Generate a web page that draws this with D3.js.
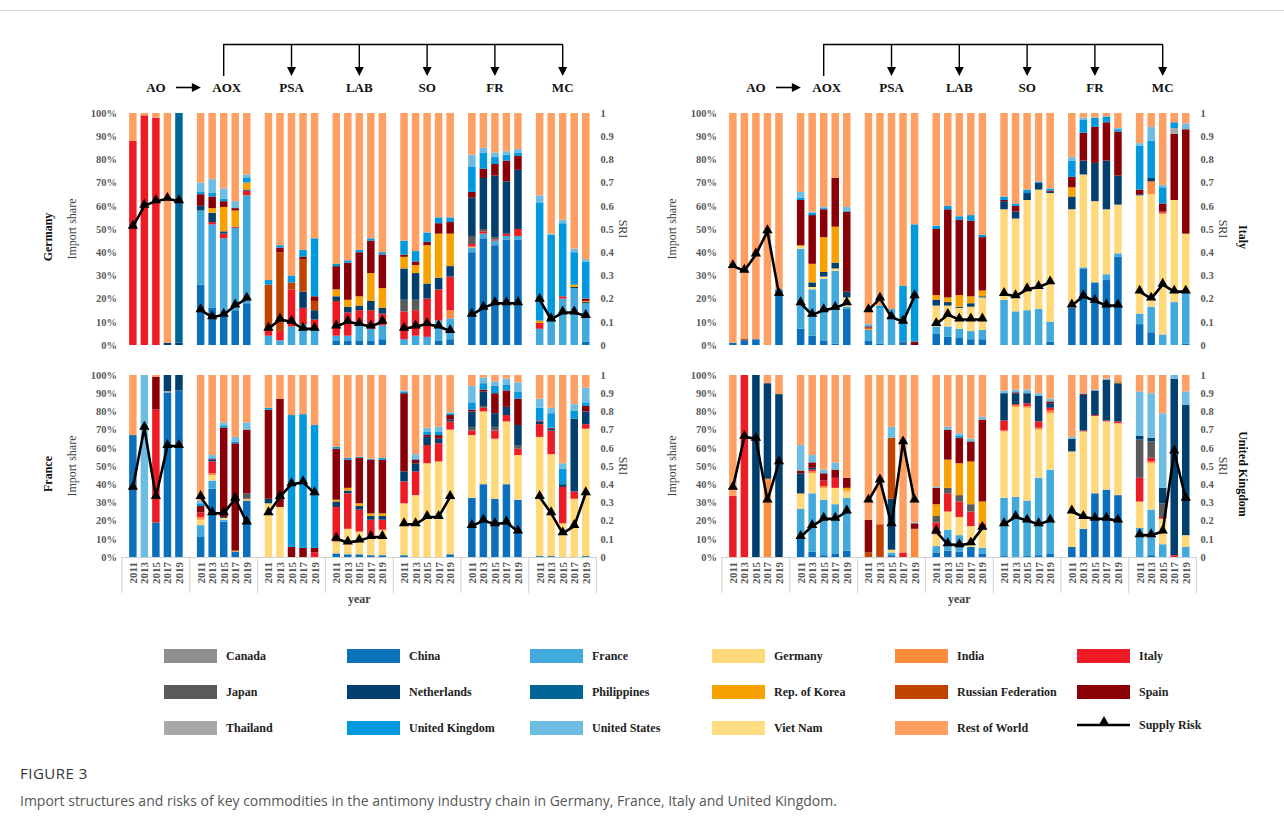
<!DOCTYPE html>
<html lang="en">
<head>
<meta charset="utf-8">
<title>Import structures and risks of antimony commodities</title>
<script src="https://cdn.jsdelivr.net/npm/d3@7"></script>
<style>
  body { margin: 0; background: #fff; }
  svg { display: block; }
</style>
</head>
<body>
<script>
// ---- categories ----
var products = ["AO", "AOX", "PSA", "LAB", "SO", "FR", "MC"];
var years = [2011, 2013, 2015, 2017, 2019];
var codes = ["CA", "CN", "FR", "DE", "IN", "IT", "JP", "NL", "PH", "KR", "RU", "ES", "TH", "UK", "US", "VN", "RW"];
var countryNames = ["Canada", "China", "France", "Germany", "India", "Italy", "Japan", "Netherlands", "Philippines",
  "Rep. of Korea", "Russian Federation", "Spain", "Thailand", "United Kingdom", "United States", "Viet Nam", "Rest of World"];
var countryColors = ["#8f8f8f", "#0a70bb", "#42a9dc", "#ffd87a", "#ff8b3d", "#ed1c24", "#5a5a5a", "#003f6e", "#006696",
  "#f7a200", "#c04400", "#8b0006", "#a8a8a8", "#0098de", "#6dbde3", "#ffdc80", "#ffa062"];
var shareTicks = [0, 0.1, 0.2, 0.3, 0.4, 0.5, 0.6, 0.7, 0.8, 0.9, 1];

// ---- import shares (%), one array per product, one object per year ----
var germanyShares = [
  [{IT:88,RW:12},{IT:99,RW:1},{IT:98,RW:2},{NL:1,RW:99},{NL:1,PH:99}],
  [{CN:26,FR:32,NL:2,ES:5,UK:1,US:4,RW:30},{CN:16,FR:36,IT:1,NL:4,KR:2,ES:5,UK:1.5,US:6,RW:28.5},
   {CN:13,FR:33,IT:2,NL:1,KR:10.5,ES:2.5,UK:1,US:4.5,RW:32.5},{CN:15,FR:35.5,IT:0.5,KR:7,ES:1,US:3,RW:38},
   {CN:18,FR:46.5,IT:2,NL:0.5,KR:3,UK:2,US:1.5,RW:26.5}],
  [{FR:4,IT:4,RU:18,UK:2,RW:72},{FR:2,IT:4,RU:34,ES:2,UK:1,RW:57},{FR:8,IT:16,RU:3,UK:3,RW:70},
   {FR:9,IT:7,NL:7,RU:14,ES:1,UK:3,RW:59},{FR:7,IT:4,NL:4,RU:4,ES:2,UK:25,RW:54}],
  [{CN:2,FR:2,IT:15,NL:2,KR:3,ES:10,UK:1,RW:65},{CN:2,FR:2,IT:10,NL:2.5,KR:3,ES:16,UK:1,RW:63.5},
   {CN:2,FR:7,IT:6,NL:2,KR:4,ES:19,UK:1,RW:59},{CN:2,FR:5,IT:8,NL:4,KR:12,ES:14,UK:1,RW:54},
   {CN:2.5,FR:6,IT:5,NL:2.5,KR:8.5,ES:14.5,UK:1,RW:60}],
  [{FR:2.5,IT:12,JP:5,NL:13.5,KR:5,ES:1,UK:6,RW:55},{FR:4,IT:11,JP:4.5,NL:11.5,KR:3.5,ES:1.5,UK:4.5,RW:59.5},
   {FR:3.5,IT:16.5,NL:6.5,KR:16.5,ES:1.5,UK:4,RW:51.5},{CN:2,FR:8.5,IT:13.5,NL:5,KR:19,ES:4.5,UK:2.5,RW:45},
   {CN:2.5,FR:9,IN:3.5,IT:14.5,NL:4.5,KR:14,ES:5,UK:2,RW:45}],
  [{CN:40,FR:2,IN:0.5,IT:1,JP:3.5,NL:16.5,ES:2.5,UK:11,US:5,RW:18},{CN:46,FR:2,IT:1,JP:1,NL:22,ES:4,UK:7,US:2,RW:15},
   {CN:43,FR:2,IT:0.5,JP:1,NL:26.5,ES:5,UK:3,US:2,RW:17},{CN:45.5,FR:1.5,IT:1,NL:22.5,ES:9,UK:2.5,US:1.5,RW:16.5},
   {CN:45.5,FR:1.5,IT:3,NL:25.5,ES:6,UK:1.5,US:1.5,RW:15.5}],
  [{FR:7,IT:2.5,KR:1,UK:51,US:3,RW:35.5},{FR:10,UK:37.5,US:0.5,RW:52},{FR:20,IT:1,UK:31.5,US:1.5,RW:46},
   {FR:24.5,NL:0.5,KR:1,UK:14,US:1.5,RW:58.5},{CN:1.5,FR:16.5,NL:0.5,KR:0.5,ES:1,UK:16,US:1,RW:63}]
];
var franceShares = [
  [{CN:67,RW:33},{US:100},{CN:19,IT:62,ES:18,RW:1},{CN:90.5,DE:0.5,NL:9},{CN:91.5,NL:8.5}],
  [{CN:11,FR:6.5,DE:3,IN:1.5,IT:2.5,ES:3.5,UK:1.5,US:1.5,RW:69},{CN:37.5,FR:4.5,DE:3,IN:1,IT:6.5,NL:1,ES:0.5,UK:0.5,US:1.5,RW:44},
   {CN:19.5,FR:1,DE:1,NL:0.5,ES:49,UK:1,US:2,RW:26},{CN:3,KR:0.5,ES:59,UK:1,US:2.5,RW:34},
   {CN:31,DE:0.5,IN:0.5,JP:3,ES:35,US:4,RW:26}],
  [{DE:29.5,NL:2.5,ES:49,UK:1,RW:18},{DE:27.5,ES:59.5,RW:13},{ES:5.5,UK:72.5,RW:22},
   {ES:5,UK:73.5,RW:21.5},{IT:2.5,ES:2.5,UK:67.5,RW:27.5}],
  [{CN:2,DE:6.5,IT:19,NL:3,KR:1,ES:28,UK:1,RW:39.5},{CN:1.5,DE:14,IT:19.5,NL:1.5,KR:1.5,ES:15.5,UK:1,RW:45.5},
   {CN:1.5,DE:12.5,IT:12,NL:2,KR:1.5,ES:25,UK:0.5,RW:45},{CN:1,DE:11,IT:8.5,NL:2,KR:1.5,ES:29.5,UK:0.5,RW:46},
   {CN:1,DE:14,IT:5.5,NL:2,KR:1.5,ES:29.5,UK:1,RW:45.5}],
  [{CN:1,DE:28.5,IT:12,NL:5.5,ES:43,UK:1,US:0.5,RW:8.5},{DE:34,IT:13,NL:4.5,ES:2,UK:0.5,US:2.5,RW:43.5},
   {DE:51.5,IT:10,NL:4.5,ES:1,UK:2,US:2,RW:29},{DE:52.5,IT:10,NL:2.5,ES:2,UK:2,US:2.5,RW:28.5},
   {CN:1.5,DE:68.5,IT:4.5,NL:1,ES:2.5,UK:1,US:0.5,RW:20.5}],
  [{CN:32.5,DE:34.5,IT:2.5,JP:2,NL:8.5,ES:1,UK:4,US:9,RW:6},{CN:40,DE:40,IT:2,JP:1,NL:8,ES:1,UK:3.5,US:3,RW:1.5},
   {CN:32,DE:33,IT:4.5,JP:2,NL:7.5,ES:11,UK:4,US:2.5,RW:3.5},{CN:40,DE:34.5,IT:3.5,NL:4.5,ES:9,UK:3,US:3.5,RW:2},
   {CN:31.5,DE:24.5,IT:3.5,JP:2,NL:11,ES:14.5,UK:4,US:5,RW:4}],
  [{CN:0.5,DE:65.5,IT:7,NL:1.5,ES:0.5,UK:7,US:5,RW:13},{CN:0.5,DE:56,IT:13,NL:1,ES:0.5,UK:8,US:3,RW:18},
   {DE:18.5,IT:20,NL:1.5,UK:8.5,US:3,RW:48.5},{DE:32,IT:4,NL:40,UK:4.5,US:3.5,RW:16},
   {CN:0.5,DE:70,IT:2.5,NL:7,ES:3,UK:2,US:8,RW:7}]
];
var italyShares = [
  [{CN:1,RW:99},{CN:2,ES:0.5,RW:97.5},{CN:2.5,RW:97.5},{RW:100},{CN:24,RW:76}],
  [{CN:7,FR:34.5,DE:1,KR:0.5,ES:19.5,UK:1,US:2.5,RW:34},{CN:4,FR:20,DE:1,NL:2,KR:8,ES:21,UK:1,US:0.5,RW:42.5},
   {CN:2,FR:26.5,DE:1,NL:2,KR:15,ES:12,UK:0.5,US:0.5,RW:40.5},{CN:0.5,FR:31.5,DE:1,NL:2.5,KR:15.5,ES:21,RW:28},
   {CN:15.5,FR:1,DE:4,NL:2.5,ES:34.5,UK:0.5,US:1.5,RW:40.5}],
  [{CN:2,FR:4.5,IN:0.5,RU:0.5,ES:0.5,UK:0.5,US:0.5,RW:91},{CN:0.5,FR:15.5,UK:1,RW:83},{FR:15.5,RW:84.5},
   {CN:1,NL:0.5,UK:24,RW:74.5},{ES:1.5,UK:50.5,RW:48}],
  [{CN:5,FR:3,DE:9,NL:2.5,KR:2,ES:28.5,UK:1.5,RW:48.5},{CN:3.5,FR:4.5,DE:9,NL:1.5,KR:2,ES:38,UK:1.5,RW:40},
   {CN:3,FR:4,DE:9,NL:0.5,KR:5,ES:32.5,UK:1.5,RW:44.5},{CN:2.5,FR:3.5,DE:10.5,NL:1.5,KR:3,ES:32.5,UK:2.5,RW:44},
   {CN:2.5,FR:4,DE:14,NL:0.5,KR:2.5,ES:23,UK:1,RW:52.5}],
  [{FR:19.5,DE:39,NL:3.5,ES:0.5,UK:1.5,RW:36},{FR:14.5,DE:40,NL:3,ES:2.5,UK:1,RW:39},
   {FR:15,DE:47.5,NL:3,UK:1.5,RW:33},{FR:15.5,DE:51.5,NL:3,UK:0.5,RW:29.5},
   {CN:1.5,FR:8.5,DE:55.5,NL:0.5,ES:0.5,UK:1,RW:32.5}],
  [{CN:16,DE:42.5,NL:5.5,KR:4,ES:4.5,UK:7,US:1.5,RW:19},{CN:33,FR:0.5,DE:40,NL:6,ES:12,UK:5.5,US:1,RW:2},
   {CN:27,DE:35,NL:16.5,ES:15.5,UK:4,RW:2},{CN:28,FR:2.5,DE:28,NL:21,ES:16.5,UK:2.5,RW:1.5},
   {CN:38,FR:1.5,DE:21,NL:12.5,ES:19,UK:1,US:0.5,RW:6.5}],
  [{CN:9,FR:4.5,DE:51,NL:0.5,ES:2,UK:19,US:1,RW:13},{CN:5.5,FR:11,DE:48.5,IN:5.5,NL:1.5,UK:16,US:6,RW:6},
   {FR:4.5,DE:52,IN:0.5,IT:0.5,ES:3.5,UK:7,US:1,RW:31},{FR:18.5,DE:44,ES:28.5,TH:2.5,UK:2.5,RW:4},
   {CN:0.5,FR:22,DE:25.5,ES:45,US:2.5,RW:4.5}]
];
var ukShares = [
  [{IT:33.5,RW:66.5},{IT:100},{NL:100},{IN:43,NL:52.5,RW:4.5},{NL:89.5,RW:10.5}],
  [{CN:10.5,FR:16,DE:8,IN:0.5,NL:11,ES:1.5,US:14,RW:38.5},{CN:3,FR:32,DE:11,IN:1,IT:1,NL:1,ES:3,US:4,RW:44},
   {CN:1,FR:30.5,DE:6.5,IN:1,IT:3,ES:4,US:2,RW:52},{CN:2,FR:27,DE:9,IT:5.5,ES:4.5,US:4,RW:48},
   {CN:3.5,FR:29,DE:3.5,IN:0.5,KR:1.5,ES:5.5,RW:56.5}],
  [{RU:2.5,ES:18,RW:79.5},{RU:18,RW:82},{CN:1,FR:1.5,DE:1.5,NL:28,RU:33.5,US:6,RW:28.5},
   {IT:2.5,RW:97.5},{IN:15.5,ES:3,US:0.5,RW:81}],
  [{CN:2.5,FR:3.5,DE:6.5,IT:6.5,JP:3.5,KR:6.5,ES:9,US:0.5,RW:61.5},{CN:3.5,FR:11.5,DE:10,IT:10,JP:3,KR:15.5,ES:16.5,US:1.5,RW:28.5},
   {CN:3,FR:9,DE:10,IT:8.5,JP:3.5,KR:17.5,ES:14,UK:1,US:1.5,RW:32},{CN:5.5,DE:11.5,IT:8,JP:4,KR:23.5,ES:11,US:1.5,RW:35},
   {CN:2,FR:3,DE:11,IT:2.5,KR:12,ES:45,US:1.5,RW:23}],
  [{CN:0.5,FR:32,DE:36.5,IN:0.5,IT:5.5,NL:15,US:1.5,RW:8.5},{FR:33,DE:49.5,IN:1,IT:0.5,NL:6,ES:0.5,US:1.5,RW:8},
   {CN:0.5,FR:30.5,DE:51,IN:1,IT:1.5,NL:5.5,US:2,RW:8},{CN:1,FR:42.5,DE:26.5,IN:1,IT:3.5,NL:14,US:1.5,RW:10},
   {CN:2,FR:46,DE:31,IN:1.5,IT:1.5,NL:2.5,ES:1,US:1.5,RW:13}],
  [{CN:5.5,DE:52.5,NL:7,US:1,RW:34},{CN:15.5,DE:53.5,IT:0.5,NL:19.5,ES:0.5,US:0.5,RW:10},
   {CN:35,DE:42.5,IT:0.5,NL:13.5,US:0.5,RW:8},{CN:37,DE:37.5,IT:0.5,NL:22.5,US:0.5,RW:2},
   {CN:34,DE:39.5,IT:1,NL:21,KR:0.5,RU:0.5,RW:3.5}],
  [{FR:16,DE:14.5,IT:13,JP:21,NL:2,US:24.5,RW:9},{CN:1,FR:25,DE:25.5,IN:1,IT:2,JP:9,NL:2,US:24.5,RW:10},
   {FR:7,DE:14,IT:1,JP:7.5,NL:8.5,US:41,RW:21},{IT:1,NL:97,US:2},{FR:5.5,DE:6.5,NL:71.5,US:7.5,RW:9}]
];

// ---- supply risk index, one array per product ----
var germanySRI = [[0.51,0.60,0.62,0.63,0.62],[0.15,0.12,0.13,0.17,0.20],[0.07,0.11,0.10,0.07,0.07],
  [0.08,0.10,0.09,0.08,0.10],[0.07,0.08,0.09,0.08,0.06],[0.13,0.16,0.18,0.18,0.18],[0.195,0.11,0.14,0.14,0.125]];
var franceSRI = [[0.38,0.71,0.33,0.61,0.61],[0.33,0.24,0.24,0.32,0.19],[0.24,0.33,0.40,0.41,0.35],
  [0.10,0.08,0.09,0.11,0.11],[0.18,0.18,0.22,0.22,0.33],[0.17,0.20,0.18,0.19,0.14],[0.33,0.24,0.13,0.17,0.35]];
var italySRI = [[0.34,0.32,0.39,0.49,0.22],[0.18,0.13,0.15,0.16,0.18],[0.15,0.20,0.12,0.10,0.21],
  [0.09,0.13,0.11,0.11,0.11],[0.22,0.21,0.24,0.25,0.27],[0.17,0.21,0.19,0.17,0.17],[0.23,0.20,0.26,0.23,0.23]];
var ukSRI = [[0.38,0.66,0.65,0.31,0.52],[0.11,0.17,0.21,0.21,0.25],[0.31,0.42,0.18,0.63,0.31],
  [0.14,0.07,0.065,0.075,0.16],[0.18,0.22,0.20,0.18,0.20],[0.25,0.22,0.21,0.21,0.20],[0.12,0.12,0.14,0.58,0.32]];

// ---- layout ----
var W = 1284, H = 832;
var serif = "'Liberation Serif', 'DejaVu Serif', serif";
var groupW = 67.8;

var panels = [
  {name: "Germany", shares: germanyShares, sri: germanySRI, x0: 122, top: 113, bottom: 345, right: false, yearAxis: false},
  {name: "France", shares: franceShares, sri: franceSRI, x0: 122, top: 375, bottom: 557, right: false, yearAxis: true},
  {name: "Italy", shares: italyShares, sri: italySRI, x0: 722, top: 113, bottom: 345, right: true, yearAxis: false},
  {name: "United Kingdom", shares: ukShares, sri: ukSRI, x0: 722, top: 375, bottom: 557, right: true, yearAxis: true}
];

var color = d3.scaleOrdinal().domain(codes).range(countryColors);

var svg = d3.select("body").append("svg")
  .attr("width", W)
  .attr("height", H)
  .style("font-family", serif);

svg.append("rect").attr("width", W).attr("height", H).attr("fill", "#fff");
svg.append("line")
  .attr("x1", 0).attr("x2", W).attr("y1", 10.5).attr("y2", 10.5)
  .attr("stroke", "#d9d9d9");

var stack = d3.stack()
  .keys(codes)
  .value(function(d, k) { return (d[k] || 0) / 100; });

var triangle = d3.symbol().type(d3.symbolTriangle).size(46);

panels.forEach(function(p) {
  var x = d3.scaleBand().domain(products).range([p.x0, p.x0 + groupW * products.length]);
  var xYear = d3.scaleBand().domain(years).range([7.1, 60.7]).paddingInner(0.35);
  var y = d3.scaleLinear().domain([0, 1]).range([p.bottom, p.top]);
  var xEnd = p.x0 + groupW * products.length;

  var g = svg.append("g");

  // stacked bars
  products.forEach(function(prod, i) {
    var rows = p.shares[i];
    var series = stack(rows);
    var gx = x(prod);
    g.append("g").selectAll("g")
      .data(series)
      .enter().append("g")
      .attr("fill", function(s) { return color(s.key); })
      .selectAll("rect")
      .data(function(s) { return s; })
      .enter().append("rect")
      .attr("x", function(d, j) { return gx + xYear(years[j]); })
      .attr("width", xYear.bandwidth())
      .attr("y", function(d) { return y(d[1]); })
      .attr("height", function(d) { return Math.max(0, y(d[0]) - y(d[1])); });
  });

  // supply risk lines
  var line = d3.line()
    .x(function(d) { return d.x; })
    .y(function(d) { return y(d.v); });
  products.forEach(function(prod, i) {
    var pts = p.sri[i].map(function(v, j) {
      return {x: x(prod) + xYear(years[j]) + xYear.bandwidth() / 2, v: v};
    });
    g.append("path")
      .datum(pts)
      .attr("d", line)
      .attr("fill", "none")
      .attr("stroke", "#000")
      .attr("stroke-width", 2.6)
      .attr("stroke-linejoin", "round");
    g.selectAll(null)
      .data(pts)
      .enter().append("path")
      .attr("d", triangle)
      .attr("transform", function(d) { return "translate(" + d.x + "," + (y(d.v) - 1) + ")"; })
      .attr("fill", "#000");
  });

  // left axis
  var left = g.append("g")
    .attr("transform", "translate(" + (p.x0 - 5) + ",0)")
    .call(d3.axisLeft(y).tickValues(shareTicks).tickFormat(d3.format(".0%")).tickSize(0).tickPadding(0));
  left.select(".domain").remove();
  left.selectAll("text")
    .attr("font-family", serif).attr("font-size", 10.5).attr("font-weight", "bold").attr("fill", "#595959");

  // right axis (SRI)
  var right = g.append("g")
    .attr("transform", "translate(" + (xEnd + 4) + ",0)")
    .call(d3.axisRight(y).tickValues(shareTicks).tickFormat(function(d) { return String(d); }).tickSize(0).tickPadding(0));
  right.select(".domain").remove();
  right.selectAll("text")
    .attr("font-family", serif).attr("font-size", 10.5).attr("font-weight", "bold").attr("fill", "#595959");

  var midY = (p.top + p.bottom) / 2;
  g.append("text")
    .attr("transform", "translate(" + (p.x0 - 46) + "," + midY + ") rotate(-90)")
    .attr("text-anchor", "middle")
    .attr("font-size", 12).attr("fill", "#404040")
    .text("Import share");
  g.append("text")
    .attr("transform", "translate(" + (xEnd + 22) + "," + midY + ") rotate(90)")
    .attr("text-anchor", "middle")
    .attr("font-size", 12).attr("fill", "#404040")
    .text("SRI");
  if (p.right) {
    g.append("text")
      .attr("transform", "translate(" + (xEnd + 42) + "," + (midY + 8) + ") rotate(90)")
      .attr("text-anchor", "middle")
      .attr("font-size", 12).attr("font-weight", "bold").attr("fill", "#111")
      .text(p.name);
  } else {
    g.append("text")
      .attr("transform", "translate(" + (p.x0 - 70) + "," + (midY + 8) + ") rotate(-90)")
      .attr("text-anchor", "middle")
      .attr("font-size", 12).attr("font-weight", "bold").attr("fill", "#111")
      .text(p.name);
  }

  // year axis on the lower row
  if (p.yearAxis) {
    g.append("line")
      .attr("x1", p.x0).attr("x2", xEnd)
      .attr("y1", p.bottom + 0.5).attr("y2", p.bottom + 0.5)
      .attr("stroke", "#d0d0d0");
    g.selectAll(null)
      .data(d3.range(products.length + 1))
      .enter().append("line")
      .attr("x1", function(k) { return p.x0 + k * groupW; })
      .attr("x2", function(k) { return p.x0 + k * groupW; })
      .attr("y1", p.bottom).attr("y2", p.bottom + 36)
      .attr("stroke", "#d0d0d0");
    products.forEach(function(prod) {
      g.selectAll(null)
        .data(years)
        .enter().append("text")
        .attr("transform", function(yr) {
          return "translate(" + (x(prod) + xYear(yr) + xYear.bandwidth() / 2 + 4) + "," + (p.bottom + 5) + ") rotate(-90)";
        })
        .attr("text-anchor", "end")
        .attr("font-size", 11).attr("font-weight", "bold").attr("fill", "#595959")
        .text(function(yr) { return yr; });
    });
    g.append("text")
      .attr("x", (p.x0 + xEnd) / 2).attr("y", p.bottom + 46)
      .attr("text-anchor", "middle")
      .attr("font-size", 12).attr("font-weight", "bold").attr("fill", "#404040")
      .text("year");
  }

  // header chain diagram on the upper row
  if (!p.yearAxis) {
    var hx = function(prod) { return x(prod) + groupW / 2; };
    var head = svg.append("g");
    head.selectAll(null)
      .data(products)
      .enter().append("text")
      .attr("x", function(d) { return d === "AOX" ? hx(d) + 3 : hx(d); })
      .attr("y", 92)
      .attr("text-anchor", "middle")
      .attr("font-size", 13).attr("font-weight", "bold").attr("fill", "#111")
      .text(function(d) { return d; });
    // AO -> AOX arrow
    head.append("line")
      .attr("x1", hx("AO") + 20).attr("x2", hx("AO") + 38)
      .attr("y1", 87.5).attr("y2", 87.5)
      .attr("stroke", "#000").attr("stroke-width", 1.6);
    head.append("path")
      .attr("d", "M" + (hx("AO") + 45) + ",87.5 l-9,-4.5 l0,9 Z")
      .attr("fill", "#000");
    var barY = 44.5;
    head.append("path")
      .attr("d", "M" + hx("AOX") + ",76 V" + barY + " H" + hx("MC"))
      .attr("fill", "none").attr("stroke", "#000").attr("stroke-width", 1.4);
    products.slice(2).forEach(function(prod) {
      head.append("line")
        .attr("x1", hx(prod)).attr("x2", hx(prod))
        .attr("y1", barY).attr("y2", 68)
        .attr("stroke", "#000").attr("stroke-width", 1.4);
      head.append("path")
        .attr("d", "M" + hx(prod) + ",76 l-4.5,-9 l9,0 Z")
        .attr("fill", "#000");
    });
  }
});

// ---- legend ----
var legendCols = [164, 347, 530, 712, 895, 1077];
var legendRows = [656, 692, 728];
var legendItems = codes.map(function(c, i) { return {code: c, name: countryNames[i]}; });
legendItems.push({code: "SR", name: "Supply Risk"});

var legend = svg.append("g");
legendItems.forEach(function(item, i) {
  var lx = legendCols[i % 6], ly = legendRows[Math.floor(i / 6)];
  if (item.code === "SR") {
    legend.append("line")
      .attr("x1", lx).attr("x2", lx + 53).attr("y1", ly - 3).attr("y2", ly - 3)
      .attr("stroke", "#000").attr("stroke-width", 2.6);
    legend.append("path")
      .attr("d", triangle)
      .attr("transform", "translate(" + (lx + 27) + "," + (ly - 6) + ")")
      .attr("fill", "#000");
    legend.append("text")
      .attr("x", lx + 62).attr("y", ly - 3).attr("dy", "0.35em")
      .attr("font-size", 12).attr("font-weight", "bold").attr("fill", "#222")
      .text(item.name);
  } else {
    legend.append("rect")
      .attr("x", lx).attr("y", ly - 7).attr("width", 53).attr("height", 14)
      .attr("fill", color(item.code));
    legend.append("text")
      .attr("x", lx + 62).attr("y", ly).attr("dy", "0.35em")
      .attr("font-size", 12).attr("font-weight", "bold").attr("fill", "#222")
      .text(item.name);
  }
});

// ---- caption ----
svg.append("text")
  .attr("x", 20).attr("y", 779)
  .attr("font-family", "'Open Sans', 'Noto Sans', sans-serif")
  .attr("font-size", 15).attr("fill", "#333").attr("letter-spacing", "0.5")
  .text("FIGURE 3");
svg.append("text")
  .attr("x", 20).attr("y", 806)
  .attr("font-family", "'Open Sans', 'Noto Sans', sans-serif")
  .attr("font-size", 14).attr("fill", "#555")
  .text("Import structures and risks of key commodities in the antimony industry chain in Germany, France, Italy and United Kingdom.");
</script>
</body>
</html>
